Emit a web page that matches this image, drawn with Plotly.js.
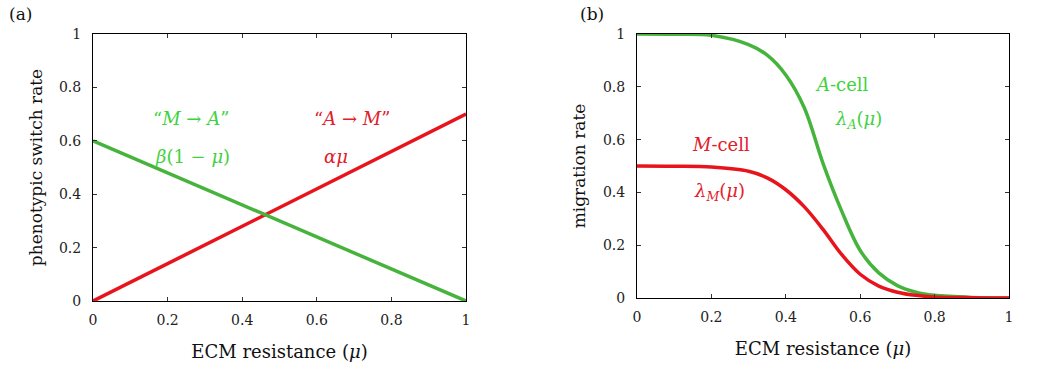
<!DOCTYPE html>
<html>
<head>
<meta charset="utf-8">
<script src="https://cdn.plot.ly/plotly-3.0.1.min.js"></script>
<style>
  html, body { margin: 0; padding: 0; background: #fff; }
  #chart { width: 1062px; height: 386px; }
</style>
</head>
<body>
<div id="chart"></div>
<script>
// Panel (a): phenotypic switch rates vs ECM resistance
const muLinear = [0, 1];
const switchAtoM = [0, 0.7];   // alpha * mu
const switchMtoA = [0.6, 0];   // beta * (1 - mu)

// Panel (b): migration rates vs ECM resistance
const muCurve = [0, 0.1, 0.2, 0.3, 0.35, 0.4, 0.45, 0.5, 0.55, 0.6, 0.65, 0.7, 0.75, 0.8, 0.9, 1.0];
const lambdaA = [1.0, 0.999, 0.995, 0.96, 0.92, 0.845, 0.72, 0.51, 0.33, 0.18, 0.095, 0.047, 0.022, 0.01, 0.002, 0.0];
const lambdaM = [0.5, 0.499, 0.496, 0.48, 0.455, 0.41, 0.345, 0.26, 0.165, 0.09, 0.045, 0.022, 0.01, 0.004, 0.001, 0.0];

const tickVals = [0, 0.2, 0.4, 0.6, 0.8, 1];
const tickText = ['0', '0.2', '0.4', '0.6', '0.8', '1'];

const RED = '#e8141c';
const GREEN = '#46b43c';
const TXT_GREEN = '#3fd23f';
const TXT_RED = '#e2202a';
const SERIF = "'DejaVu Serif', 'Liberation Serif', serif";

const traces = [
  { x: muLinear, y: switchAtoM, xaxis: 'x', yaxis: 'y', mode: 'lines',
    line: { color: RED, width: 3.5 }, hoverinfo: 'skip' },
  { x: muLinear, y: switchMtoA, xaxis: 'x', yaxis: 'y', mode: 'lines',
    line: { color: GREEN, width: 3.5 }, hoverinfo: 'skip' },
  { x: muCurve, y: lambdaA, xaxis: 'x2', yaxis: 'y2', mode: 'lines',
    line: { color: GREEN, width: 3.5, shape: 'spline', smoothing: 1 }, hoverinfo: 'skip' },
  { x: muCurve, y: lambdaM, xaxis: 'x2', yaxis: 'y2', mode: 'lines',
    line: { color: RED, width: 3.5, shape: 'spline', smoothing: 1 }, hoverinfo: 'skip' }
];

function axisBase(extra) {
  return Object.assign({
    range: [0, 1],
    tickvals: tickVals,
    ticktext: tickText,
    ticks: 'inside',
    ticklen: 4,
    tickwidth: 1,
    tickcolor: '#333',
    showline: true,
    linecolor: '#000',
    linewidth: 1,
    mirror: 'ticks',
    showgrid: false,
    zeroline: false,
    tickfont: { family: SERIF, size: 14, color: '#222' },
    fixedrange: true
  }, extra);
}

const titleFont = { family: SERIF, size: 17, color: '#111' };
const labelFont = (c) => ({ family: SERIF, size: 18, color: c });
const xTitle = { text: 'ECM resistance (<i>μ</i>)', font: { family: SERIF, size: 18, color: '#111' }, standoff: 18 };

const layout = {
  width: 1062,
  height: 386,
  margin: { l: 0, r: 0, t: 0, b: 0 },
  paper_bgcolor: '#fff',
  plot_bgcolor: '#fff',
  showlegend: false,
  xaxis: axisBase({ domain: [0.0876, 0.4388], anchor: 'y', title: xTitle, ticklabelstandoff: 6 }),
  yaxis: axisBase({ domain: [0.2202, 0.9119], anchor: 'x', ticklabelstandoff: 8,
    title: { text: 'phenotypic switch rate', font: titleFont, standoff: 12 } }),
  xaxis2: axisBase({ domain: [0.5998, 0.9501], anchor: 'y2', title: xTitle, ticklabelstandoff: 6 }),
  yaxis2: axisBase({ domain: [0.2280, 0.9119], anchor: 'x2', ticklabelstandoff: 8,
    title: { text: 'migration rate', font: titleFont, standoff: 12 } }),
  annotations: [
    { text: '(a)', xref: 'paper', yref: 'paper', x: 20 / 1062, y: 1 - 14 / 386,
      xanchor: 'center', yanchor: 'middle', showarrow: false, font: titleFont },
    { text: '(b)', xref: 'paper', yref: 'paper', x: 592 / 1062, y: 1 - 14 / 386,
      xanchor: 'center', yanchor: 'middle', showarrow: false, font: titleFont },

    { text: '“<i>M</i> → <i>A</i>”', xref: 'x', yref: 'y', x: 0.263, y: 0.685,
      showarrow: false, font: labelFont(TXT_GREEN) },
    { text: '<i>β</i>(1 − <i>μ</i>)', xref: 'x', yref: 'y', x: 0.268, y: 0.543,
      showarrow: false, font: labelFont(TXT_GREEN) },
    { text: '“<i>A</i> → <i>M</i>”', xref: 'x', yref: 'y', x: 0.695, y: 0.685,
      showarrow: false, font: labelFont(TXT_RED) },
    { text: '<i>αμ</i>', xref: 'x', yref: 'y', x: 0.651, y: 0.543,
      showarrow: false, font: labelFont(TXT_RED) },

    { text: '<i>A</i>-cell', xref: 'x2', yref: 'y2', x: 0.551, y: 0.807,
      showarrow: false, font: labelFont(TXT_GREEN) },
    { text: '<i>λ</i><sub><i>A</i></sub>(<i>μ</i>)', xref: 'x2', yref: 'y2', x: 0.595, y: 0.674,
      showarrow: false, font: labelFont(TXT_GREEN) },
    { text: '<i>M</i>-cell', xref: 'x2', yref: 'y2', x: 0.226, y: 0.58,
      showarrow: false, font: labelFont(TXT_RED) },
    { text: '<i>λ</i><sub><i>M</i></sub>(<i>μ</i>)', xref: 'x2', yref: 'y2', x: 0.223, y: 0.40,
      showarrow: false, font: labelFont(TXT_RED) }
  ]
};

Plotly.newPlot('chart', traces, layout, { staticPlot: true, displayModeBar: false });
</script>
</body>
</html>
